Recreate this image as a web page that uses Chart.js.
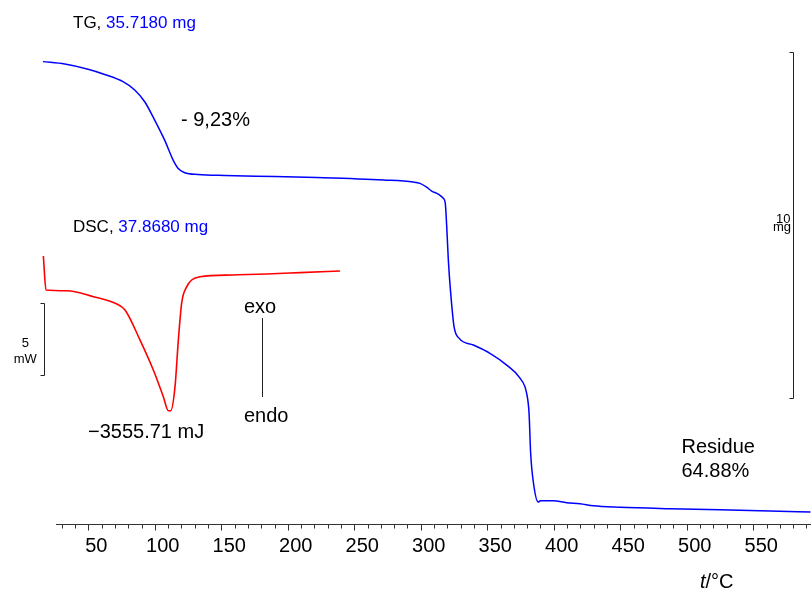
<!DOCTYPE html>
<html>
<head>
<meta charset="utf-8">
<script src="https://cdn.jsdelivr.net/npm/chart.js@4.4.1/dist/chart.umd.min.js"></script>
<style>
  html, body { margin: 0; padding: 0; background: #fff; }
  canvas { display: block; }
</style>
</head>
<body>
<canvas id="c" width="811" height="590"></canvas>
<script>
// ---- Data ----
const tgTemp = [15.9, 32.3, 49.8, 62.3, 76.1, 84.9, 92.4, 99.9, 107.4, 113.7, 117.4, 122.5, 132.5, 152.6, 176.3, 221.7, 271.8, 294.4, 299.4, 304.4, 308.2, 313.2, 316.9, 318.4, 319.5, 320.7, 322.5, 325.0, 328.9, 339.5, 352.0, 364.6, 374.6, 379.6, 381.4, 382.6, 385.1, 388.3, 390.0, 399.6, 409.7, 419.7, 429.7, 449.8, 487.4, 525.0, 562.6, 593.0];
const tgMass = [35.70, 35.63, 35.48, 35.33, 35.12, 34.88, 34.54, 34.01, 33.43, 32.86, 32.62, 32.49, 32.44, 32.41, 32.39, 32.35, 32.28, 32.22, 32.18, 32.07, 31.96, 31.87, 31.75, 31.61, 30.93, 29.97, 29.00, 28.04, 27.70, 27.51, 27.27, 26.93, 26.55, 26.11, 25.54, 24.38, 23.42, 22.97, 23.01, 23.01, 22.95, 22.92, 22.86, 22.82, 22.78, 22.75, 22.71, 22.68];

const dscTemp = [16.2, 18.2, 33.8, 53.8, 71.4, 77.6, 88.9, 98.9, 106.4, 110.2, 112.0, 115.2, 117.7, 120.2, 124.0, 127.7, 134.0, 158.8, 184.1, 209.2, 239.3];
const dscFlow = [2.35, 0, -0.05, -0.46, -0.97, -1.38, -3.46, -5.53, -7.37, -8.34, -8.34, -6.68, -3.46, -0.90, 0.23, 0.69, 0.92, 1.04, 1.11, 1.20, 1.31];

const majorTicks = [50, 100, 150, 200, 250, 300, 350, 400, 450, 500, 550];
const minorStep = 10;
const axisStart = 25.7;
const firstTick = 30;
const lastTick = 590;

// scale bars: [from, to] in data units
const tgBar = [35.97, 25.97];   // 10 mg
const dscBar = [-0.88, -5.88];  // 5 mW

const FONT = "'Liberation Sans', Arial, Helvetica, sans-serif";
const BLUE = 'rgb(0,0,255)';
const RED = 'rgb(255,0,0)';

function toXY(xs, ys) { return xs.map((v, i) => ({x: v, y: ys[i]})); }

const overlay = {
  id: 'overlay',
  afterDraw(chart) {
    const {ctx} = chart;
    const x = chart.scales.x, yT = chart.scales.yTG, yD = chart.scales.yDSC;
    ctx.save();
    // x axis line and ticks
    const ay = Math.round(x.top) + 0.5;
    ctx.strokeStyle = '#333';
    ctx.lineWidth = 1;
    ctx.beginPath();
    ctx.moveTo(x.getPixelForValue(axisStart), ay);
    ctx.lineTo(x.right, ay);
    for (let t = firstTick; t <= lastTick; t += minorStep) {
      const px = Math.round(x.getPixelForValue(t)) + 0.5;
      const len = majorTicks.includes(t) ? 6 : 4;
      ctx.moveTo(px, ay);
      ctx.lineTo(px, ay + len);
    }
    ctx.stroke();

    // scale bars
    ctx.strokeStyle = '#222';
    ctx.beginPath();
    const bx = Math.round(x.getPixelForValue(579.8)) + 0.5;
    const b1 = Math.round(yT.getPixelForValue(tgBar[0])) + 0.5;
    const b2 = Math.round(yT.getPixelForValue(tgBar[1])) + 0.5;
    ctx.moveTo(bx - 4, b1); ctx.lineTo(bx, b1); ctx.lineTo(bx, b2); ctx.lineTo(bx - 4, b2);
    const dx = Math.round(x.getPixelForValue(16.9)) + 0.5;
    const d1 = Math.round(yD.getPixelForValue(dscBar[0])) + 0.5;
    const d2 = Math.round(yD.getPixelForValue(dscBar[1])) + 0.5;
    ctx.moveTo(dx - 4, d1); ctx.lineTo(dx, d1); ctx.lineTo(dx, d2); ctx.lineTo(dx - 4, d2);
    // exo/endo line
    ctx.moveTo(262.5, 318); ctx.lineTo(262.5, 397);
    ctx.stroke();

    ctx.textBaseline = 'alphabetic';
    ctx.textAlign = 'left';
    function txt(s, px, py, size, color, style) {
      ctx.font = (style || '') + ' ' + size + 'px ' + FONT;
      ctx.fillStyle = color || '#000';
      ctx.fillText(s, px, py);
      return ctx.measureText(s).width;
    }
    // headers
    let w = txt('TG, ', 73, 28, 17, '#000');
    txt('35.7180 mg', 73 + w, 28, 17, BLUE);
    w = txt('DSC, ', 73, 232, 17, '#000');
    txt('37.8680 mg', 73 + w, 232, 17, BLUE);

    txt('- 9,23%', 181, 126, 20, '#000');
    txt('\u22123555.71 mJ', 88, 438, 20, '#000');
    txt('exo', 244, 313, 20, '#000');
    txt('endo', 244, 421.5, 20, '#000');
    txt('Residue', 681.5, 453, 20, '#000');
    txt('64.88%', 681.5, 476.5, 20, '#000');

    // small scale labels
    ctx.textAlign = 'center';
    txt('5', 25.3, 347, 13, '#000');
    txt('mW', 25.3, 363, 13, '#000');
    ctx.textAlign = 'right';
    txt('10', 790.5, 222.5, 13, '#000');
    txt('mg', 791, 230.5, 13, '#000');

    // axis title
    ctx.textAlign = 'left';
    w = txt('t', 700, 587.5, 20, '#000', 'italic');
    txt('/\u00b0C', 700 + w, 587.5, 20, '#000');
    ctx.restore();
  }
};

new Chart(document.getElementById('c'), {
  type: 'line',
  data: {
    datasets: [
      {
        label: 'TG',
        data: toXY(tgTemp, tgMass),
        yAxisID: 'yTG',
        borderColor: BLUE,
        borderWidth: 1.5,
        pointRadius: 0,
        fill: false,
        cubicInterpolationMode: 'monotone',
        clip: false
      },
      {
        label: 'DSC',
        data: toXY(dscTemp, dscFlow),
        yAxisID: 'yDSC',
        borderColor: RED,
        borderWidth: 1.6,
        pointRadius: 0,
        fill: false,
        cubicInterpolationMode: 'monotone',
        clip: false
      }
    ]
  },
  options: {
    responsive: false,
    animation: false,
    events: [],
    layout: { padding: 0, autoPadding: false },
    plugins: { legend: { display: false }, tooltip: { enabled: false }, title: { display: false } },
    scales: {
      x: {
        type: 'linear',
        position: 'bottom',
        min: -16.4,
        max: 593.4,
        grid: { display: false, drawTicks: false },
        border: { display: false },
        afterBuildTicks(scale) {
          const t = [];
          for (let v = firstTick; v <= lastTick; v += minorStep) t.push({value: v});
          scale.ticks = t;
        },
        afterFit(scale) {
          scale.height = 66;
          scale.paddingLeft = 0;
          scale.paddingRight = 0;
        },
        ticks: {
          autoSkip: false,
          maxRotation: 0,
          minRotation: 0,
          padding: 10,
          labelOffset: 8,
          color: '#000',
          font: { family: FONT, size: 20 },
          callback: (v) => majorTicks.includes(v) ? String(v) : ''
        }
      },
      yTG: {
        type: 'linear',
        display: false,
        min: 22.336,
        max: 37.481
      },
      yDSC: {
        type: 'linear',
        display: false,
        min: -16.17,
        max: 20.04
      }
    }
  },
  plugins: [overlay]
});
</script>
</body>
</html>
